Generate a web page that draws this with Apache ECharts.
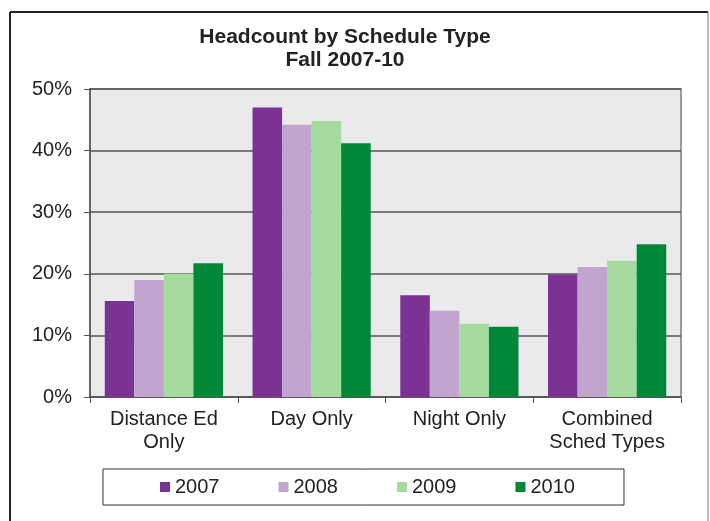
<!DOCTYPE html>
<html>
<head>
<meta charset="utf-8">
<script src="https://cdn.jsdelivr.net/npm/echarts@6/dist/echarts.min.js"></script>
<style>
  html, body { margin: 0; padding: 0; background: #fff; }
  #chart { width: 710px; height: 521px; }
</style>
</head>
<body>
<div id="chart"></div>
<script>
// Categories and series (percent of headcount)
const categories = ["Distance Ed\nOnly", "Day Only", "Night Only", "Combined\nSched Types"];
const years = ["2007", "2008", "2009", "2010"];
const colors = ["#7b3294", "#c2a5cf", "#a6dba0", "#008837"];
const values2007 = [15.6, 47.0, 16.5, 19.9];
const values2008 = [19.0, 44.2, 14.0, 21.1];
const values2009 = [20.0, 44.8, 11.9, 22.1];
const values2010 = [21.7, 41.2, 11.4, 24.8];
const seriesValues = [values2007, values2008, values2009, values2010];

const font = "Liberation Sans, Arial, sans-serif";

const option = {
  animation: false,
  textStyle: { fontFamily: font },
  title: {
    text: "Headcount by Schedule Type\nFall 2007-10",
    left: 345,
    top: 26,
    padding: 0,
    textAlign: "center",
    textStyle: {
      fontFamily: font,
      fontSize: 21,
      fontWeight: "bold",
      color: "#222",
      lineHeight: 23,
    },
  },
  // outer frame of the picture
  graphic: [
    { type: "line", shape: { x1: 10, y1: 12, x2: 708, y2: 12 }, style: { stroke: "#222", lineWidth: 2 } },
    { type: "line", shape: { x1: 10, y1: 12, x2: 10, y2: 521 }, style: { stroke: "#222", lineWidth: 2 } },
    { type: "line", shape: { x1: 708, y1: 12, x2: 708, y2: 521 }, style: { stroke: "#777", lineWidth: 1 } },
  ],
  legend: {
    left: 103,
    top: 469,
    padding: [8, 49, 8, 57],
    itemGap: 59,
    itemWidth: 10,
    itemHeight: 10,
    icon: "rect",
    borderColor: "#333",
    borderWidth: 1,
    textStyle: { fontFamily: font, fontSize: 20, color: "#222" },
    data: years,
  },
  grid: {
    left: 90,
    right: 29,
    top: 89,
    bottom: 124,
    show: true,
    backgroundColor: "#eaeaed",
    borderColor: "#999",
    borderWidth: 2,
  },
  xAxis: {
    type: "category",
    data: categories,
    axisLine: { lineStyle: { color: "#555", width: 1.5 } },
    axisTick: { show: true, length: 6, interval: 0, lineStyle: { color: "#555" } },
    axisLabel: {
      fontFamily: font,
      fontSize: 20,
      color: "#222",
      margin: 11,
      lineHeight: 23,
      interval: 0,
    },
  },
  yAxis: {
    type: "value",
    min: 0,
    max: 50,
    interval: 10,
    axisLine: { show: true, lineStyle: { color: "#555", width: 1.5 } },
    axisTick: { show: true, length: 6, lineStyle: { color: "#555" } },
    axisLabel: {
      formatter: "{value}%",
      fontFamily: font,
      fontSize: 20,
      color: "#222",
      margin: 18,
    },
    splitLine: { lineStyle: { color: "#555", width: 1.5 } },
  },
  series: years.map((y, i) => ({
    name: y,
    type: "bar",
    data: seriesValues[i],
    barGap: "0%",
    barCategoryGap: "20%",
    itemStyle: { color: colors[i] },
  })),
};

const myChart = echarts.init(document.getElementById("chart"));
myChart.setOption(option);
</script>
</body>
</html>
